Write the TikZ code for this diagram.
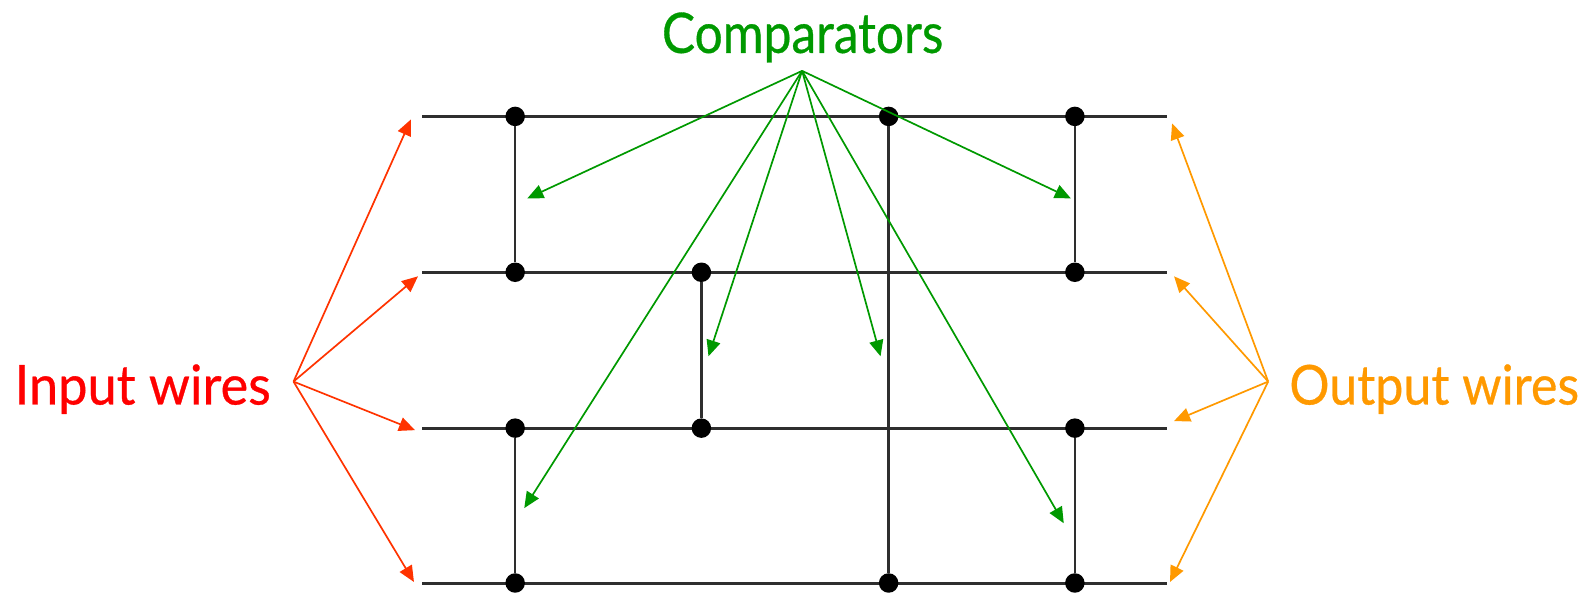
\documentclass[tikz,border=0pt]{standalone}
\usepackage{fontspec}
\setmainfont{Lato}[FakeBold=0.6]
\usetikzlibrary{arrows.meta}
\definecolor{cgreen}{HTML}{009900}
\definecolor{cred}{HTML}{FF3300}
\definecolor{ctext}{HTML}{FF0000}
\definecolor{corange}{HTML}{FF9900}
\tikzset{
  wire/.style={draw=black!82,line width=2.5pt},
  comparator/.style={draw=black!82,line width=2.4pt},
  pin/.style={circle,fill=black,draw=none,inner sep=0pt,minimum size=19.5pt},
  pointer/.style={line width=1.7pt,-{Triangle[length=16pt,width=14pt]}},
  greenptr/.style={pointer,draw=cgreen},
  redptr/.style={pointer,draw=cred},
  orangeptr/.style={pointer,draw=corange},
  lbl/.style={inner sep=0pt,anchor=center,font=\fontsize{46pt}{50pt}\selectfont}
}
\begin{document}
\begin{tikzpicture}[x=1.0121pt,y=-1.0121pt]
\useasboundingbox (0,0) rectangle (1568,585);
% wire ends
\foreach \n/\y in {a/115.3,b/269.3,c/423.3,d/576.3}{
  \coordinate (\n L) at (417,\y);
  \coordinate (\n R) at (1153,\y);
  \draw[wire] (\n L) -- (\n R);
}
% pins
\foreach \n/\x/\y in {a1/509/115,b1/509/269,b2/693/269,c2/693/423,a3/878/115,d3/878/576,a4/1062/115,b4/1062/269,c1/509/423,d1/509/576,c4/1062/423,d4/1062/576}{
  \node[pin] (\n) at (\x,\y) {};
}
% comparators
\draw[comparator] (a1) -- (b1);
\draw[comparator] (b2) -- (c2);
\draw[comparator] (a3) -- (d3);
\draw[comparator] (a4) -- (b4);
\draw[comparator] (c1) -- (d1);
\draw[comparator] (c4) -- (d4);
% labels
\node[lbl,text=cgreen] (comp) at (793,37) {\resizebox*{281.4pt}{50pt}{Comparators}};
\node[lbl,text=ctext] (inp) at (141,384.5) {\resizebox*{256pt}{49.5pt}{Input wires}};
\node[lbl,text=corange] (outp) at (1417,384.5) {\resizebox*{289.5pt}{49.5pt}{Output wires}};
% apexes and targets
\coordinate (G) at (792.5,70);
\coordinate (R) at (290,377);
\coordinate (O) at (1253,377);
\foreach \n/\x/\y in {g1/521/196,g2/518/502,g3/700/352,g4/870/352,g5/1051/517,g6/1058/196}{
  \coordinate (\n) at (\x,\y);
  \draw[greenptr] (G) -- (\n);
}
\foreach \n/\x/\y in {r1/406/118,r2/413/273,r3/410/425,r4/409/575}{
  \coordinate (\n) at (\x,\y);
  \draw[redptr] (R) -- (\n);
}
\foreach \n/\x/\y in {o1/1158/122,o2/1160/273,o3/1160/416,o4/1156/575}{
  \coordinate (\n) at (\x,\y);
  \draw[orangeptr] (O) -- (\n);
}
\end{tikzpicture}
\end{document}
